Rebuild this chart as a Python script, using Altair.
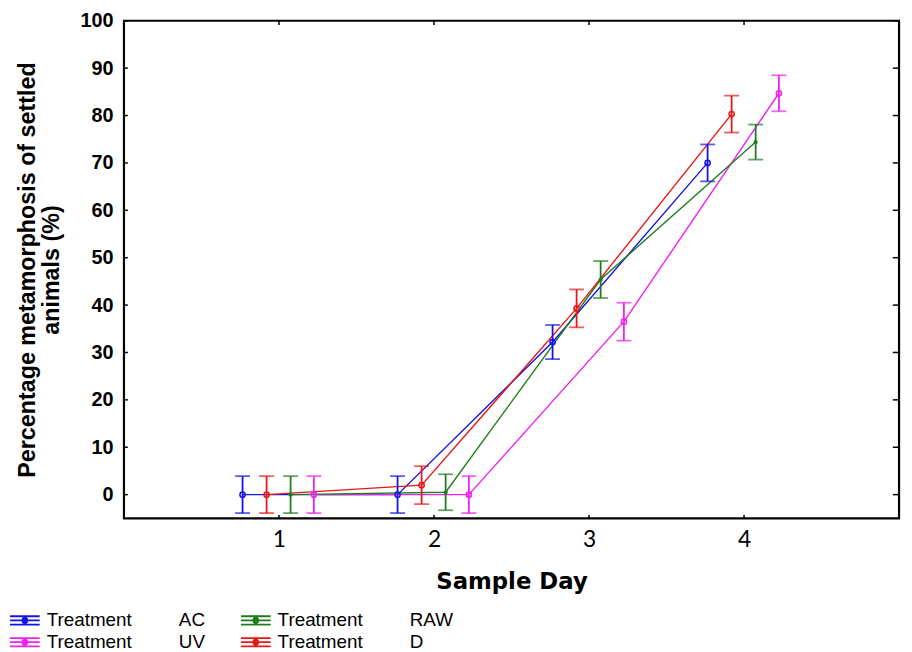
import altair as alt
import pandas as pd

days = [1, 2, 3, 4]
treatments = ["AC", "UV", "RAW", "D"]
ac_mean = [0.0, 0.0, 32.2, 70.0]
raw_mean = [0.0, 0.5, 45.4, 74.4]
uv_mean = [0.0, 0.0, 36.5, 84.7]
d_mean = [0.0, 2.0, 39.3, 80.3]
ac_err = [3.9, 3.9, 3.6, 3.9]
raw_err = [3.9, 3.8, 3.9, 3.7]
uv_err = [3.9, 3.9, 4.0, 3.8]
d_err = [3.9, 4.0, 4.0, 3.9]
dodge = {"AC": -0.235, "D": -0.08, "RAW": 0.075, "UV": 0.225}
colors = ["#1414e6", "#f020f0", "#1e7d1e", "#e81818"]  # AC, UV, RAW, D
y_ticks = list(range(0, 101, 10))
x_ticks = [1, 2, 3, 4]

means = {"AC": ac_mean, "RAW": raw_mean, "UV": uv_mean, "D": d_mean}
errs = {"AC": ac_err, "RAW": raw_err, "UV": uv_err, "D": d_err}
rows = []
for t in treatments:
    for i, d in enumerate(days):
        rows.append({"treatment": t, "day": d, "xpos": d + dodge[t],
                     "mean": means[t][i], "lo": means[t][i] - errs[t][i],
                     "hi": means[t][i] + errs[t][i]})
df = pd.DataFrame(rows)

ytick_df = pd.DataFrame({"v": y_ticks})
xtick_df = pd.DataFrame({"v": x_ticks})

NB = "\u00a0"
icon = ("M-1.5,-0.42H1.5M-1.5,0H1.5M-1.5,0.42H1.5M0,-0.42V0.42"
        "M0.25,0A0.25,0.25 0 1,1 -0.25,0A0.25,0.25 0 1,1 0.25,0")

xscale = alt.Scale(domain=[0, 5], nice=False, zero=False)
yscale = alt.Scale(domain=[-5, 100], nice=False, zero=False)

color = alt.Color(
    "treatment:N",
    scale=alt.Scale(domain=treatments, range=colors),
    legend=alt.Legend(
        title=None, orient="none", legendX=-111, legendY=594, columns=2,
        symbolType=icon, symbolSize=400, symbolStrokeWidth=1.8, symbolOpacity=1,
        symbolFillColor="white", columnPadding=32, rowPadding=1,
        labelFont="Liberation Sans", labelFontSize=19, labelColor="black",
        labelLimit=400, padding=0, labelOffset=11,
        labelExpr="'Treatment" + NB * 9 + "' + datum.label",
    ),
)

x_enc = alt.X(
    "xpos:Q", scale=xscale,
    axis=alt.Axis(values=x_ticks, title="Sample Day", ticks=False, domain=False,
                  grid=False, labelFont="Lato", labelFontSize=23, labelColor="black",
                  labelPadding=10, titleFont="DejaVu Sans", titleFontSize=23,
                  titleFontWeight="bold", titleColor="black", titlePadding=20,
                  format="d"),
)
y_enc = alt.Y(
    "mean:Q", scale=yscale,
    axis=alt.Axis(values=y_ticks, title=["Percentage metamorphosis of settled", "animals (%)"],
                  ticks=False, domain=False, grid=False,
                  labelFont="Liberation Sans", labelFontSize=20, labelFontWeight="bold",
                  labelColor="black", labelPadding=11,
                  titleFont="Liberation Sans", titleFontSize=23.5, titleFontWeight="bold",
                  titleColor="black", titlePadding=17, titleLineHeight=24),
)

base = alt.Chart(df)
lines = base.mark_line(strokeWidth=1.4).encode(x=x_enc, y=y_enc, color=color,
                                                detail="treatment:N", order="day:Q")
bars = base.mark_rule(strokeWidth=1.8).encode(x="xpos:Q", y="lo:Q", y2="hi:Q", color=color)
cap_lo = base.mark_tick(orient="horizontal", size=15, thickness=1.8).encode(
    x="xpos:Q", y="lo:Q", color=color)
cap_hi = base.mark_tick(orient="horizontal", size=15, thickness=1.8).encode(
    x="xpos:Q", y="hi:Q", color=color)
pts_open = base.transform_filter("datum.treatment != 'RAW'").mark_point(
    shape="circle", size=28, strokeWidth=1.5, filled=False, opacity=1).encode(
    x="xpos:Q", y="mean:Q", color=color)
pts_fill = base.transform_filter("datum.treatment == 'RAW'").mark_point(
    shape="circle", size=18, filled=True, opacity=1).encode(
    x="xpos:Q", y="mean:Q", color=color)

# inner ticks on the frame
lt = alt.Chart(ytick_df).mark_rule(color="black", strokeWidth=1.5).encode(
    y="v:Q", x=alt.datum(0), x2=alt.datum(0.025))
rt = alt.Chart(ytick_df).mark_rule(color="black", strokeWidth=1.5).encode(
    y="v:Q", x=alt.datum(4.96), x2=alt.datum(5))
bt = alt.Chart(xtick_df).mark_rule(color="black", strokeWidth=1.5).encode(
    x="v:Q", y=alt.datum(-5), y2=alt.datum(-4.3))
tt = alt.Chart(xtick_df).mark_rule(color="black", strokeWidth=1.5).encode(
    x="v:Q", y=alt.datum(99.1), y2=alt.datum(100))

chart = alt.layer(lines, bars, cap_lo, cap_hi, pts_open, pts_fill, lt, rt, bt, tt).properties(
    width=782, height=502,
    autosize=alt.AutoSizeParams(type="none"),
    padding={"left": 117, "top": 10, "right": 5, "bottom": 132},
    background="white",
).configure_view(stroke="black", strokeWidth=2.2)

chart.save("out.html", embed_options={"renderer": "svg", "actions": False})
